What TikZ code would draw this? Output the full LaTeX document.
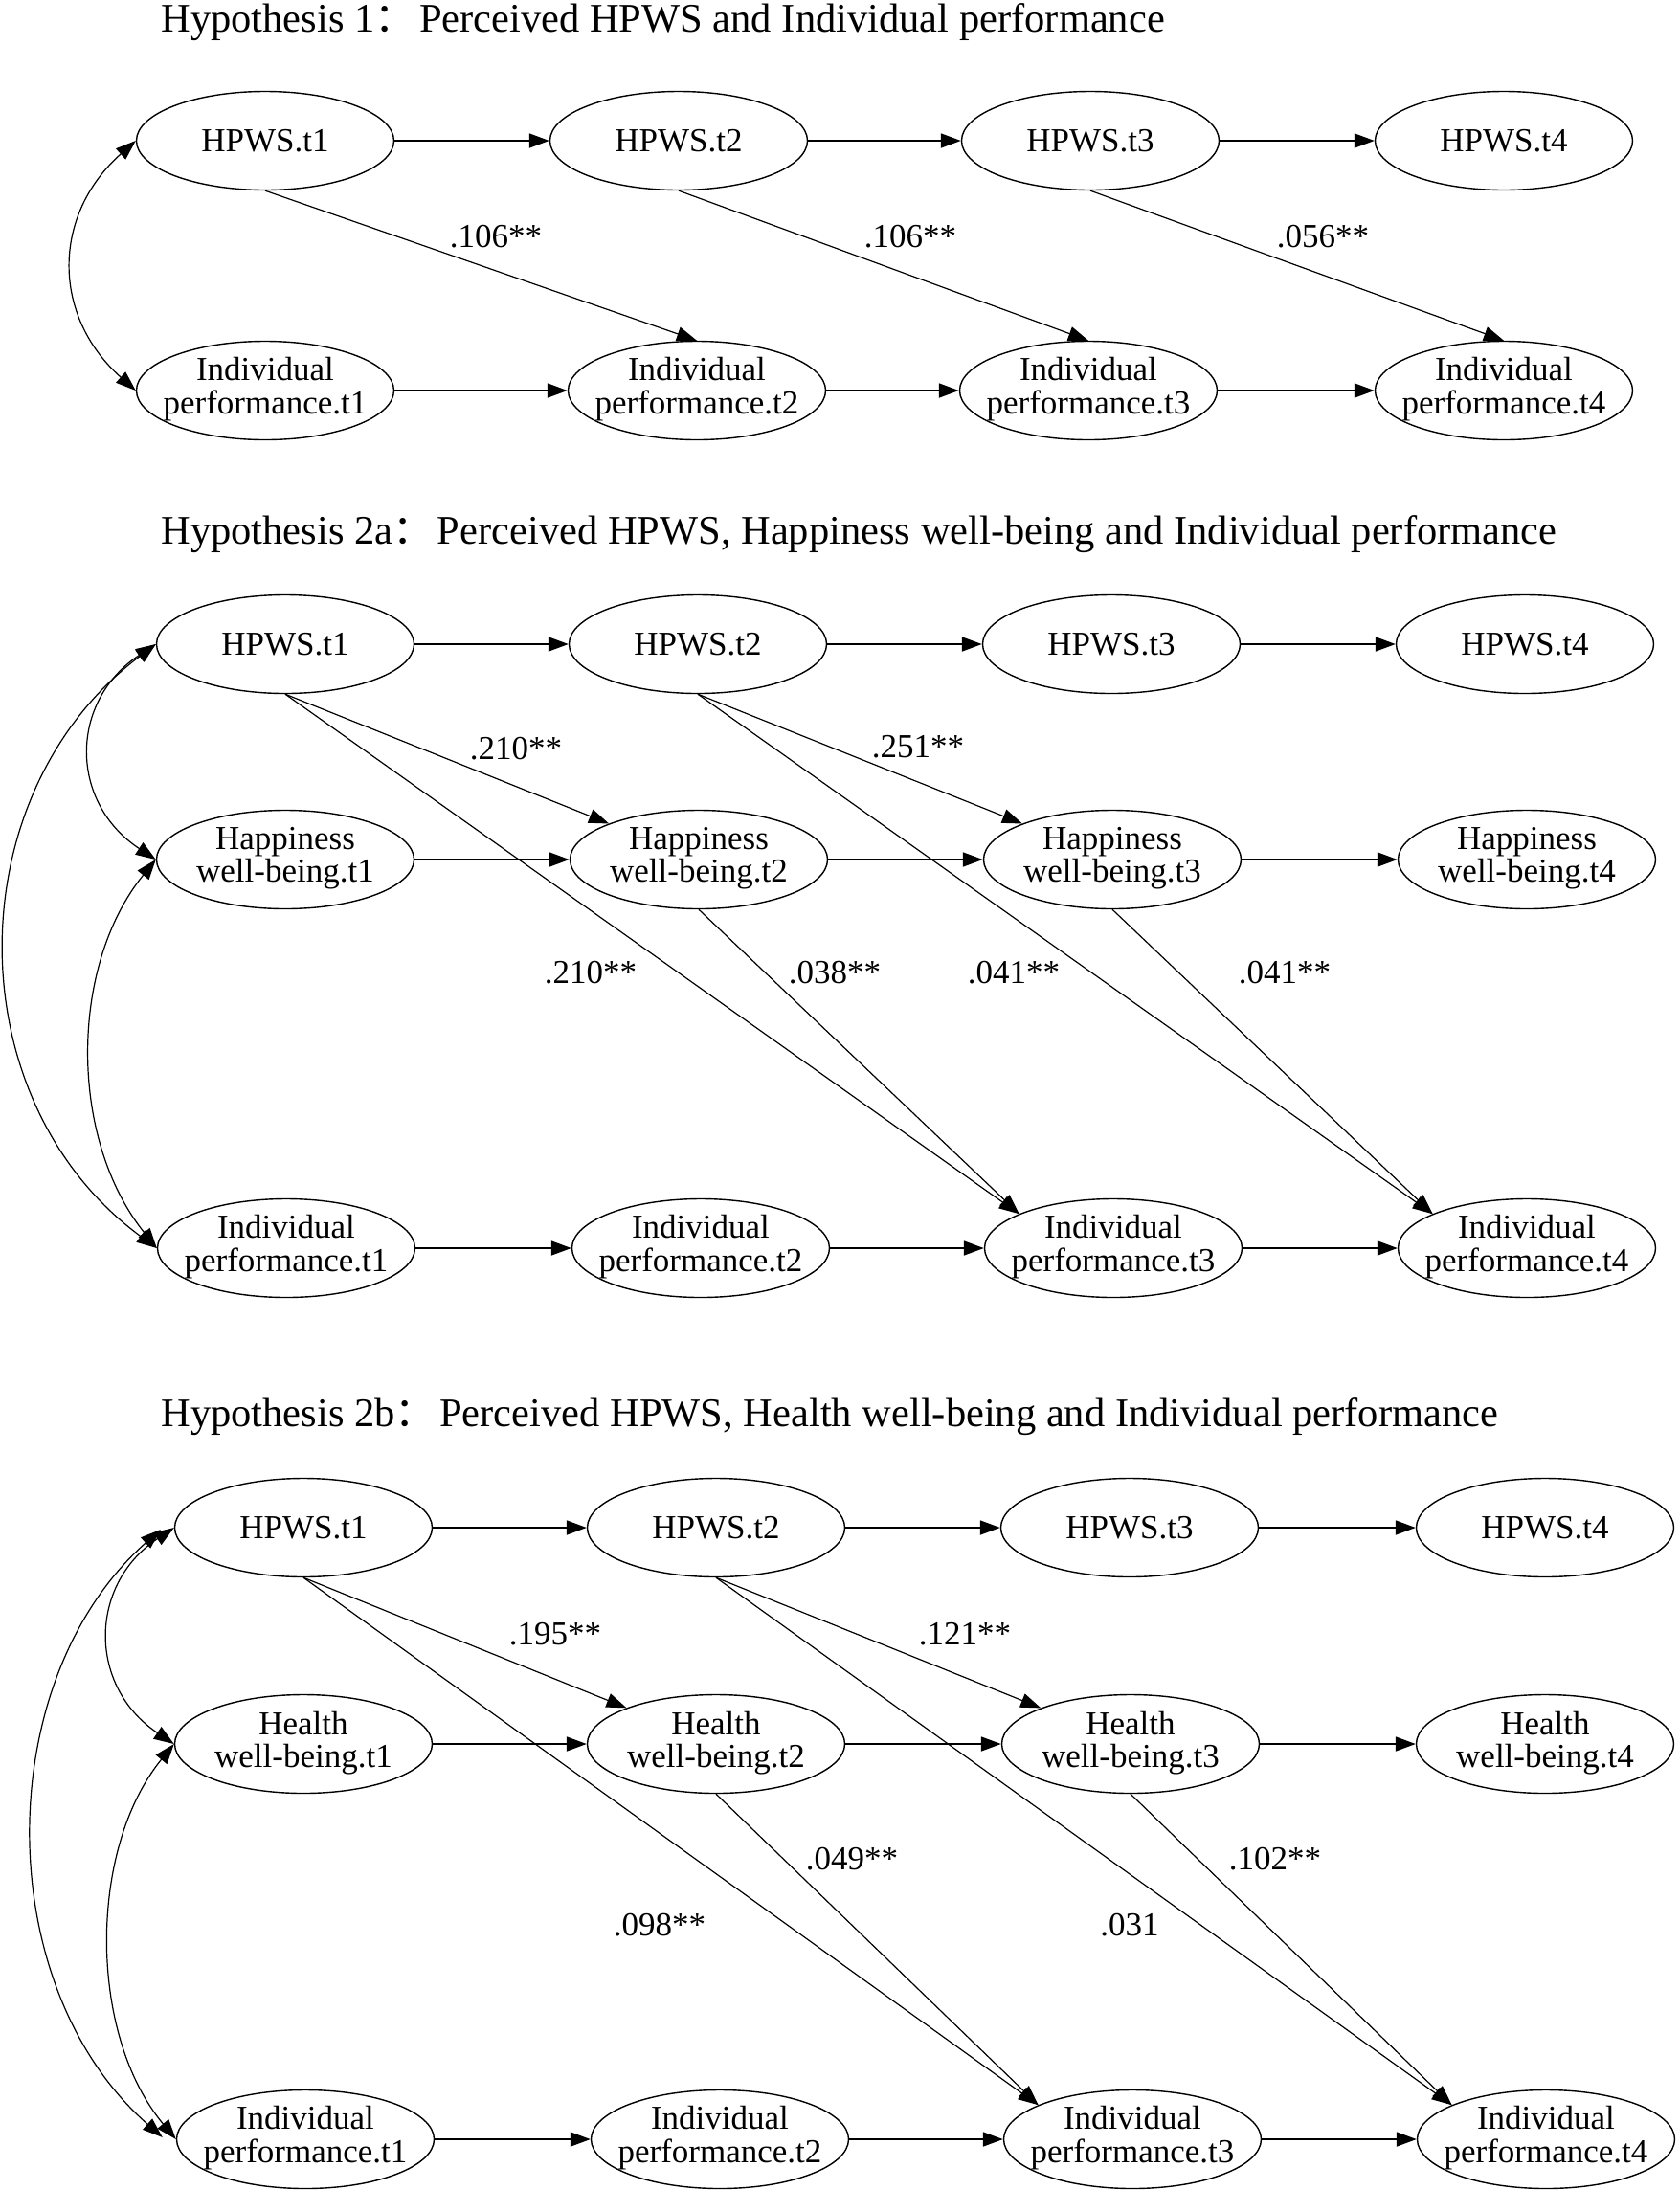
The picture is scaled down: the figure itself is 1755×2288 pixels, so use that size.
\documentclass[tikz,border=0pt]{standalone}
\usepackage{fontspec}
\setmainfont{Liberation Serif}
\newfontfamily\cjk{Noto Sans CJK SC}
\usetikzlibrary{arrows.meta,shapes.geometric,calc}
\newcommand\twol[2]{\makebox[0pt]{\begin{tabular}{@{}c@{}}#1\\#2\end{tabular}}}
\begin{document}
\begin{tikzpicture}[x=0.5pt,y=-0.5pt,
  ell/.style={draw, line width=0.7pt, ellipse, minimum width=134.5pt, minimum height=51.5pt, inner sep=0pt, font=\fontsize{17.5}{16.5}\selectfont},
  arr/.style={line width=0.9pt, -{Triangle[length=10.5pt,width=7.5pt]}},
  darr/.style={line width=0.6pt, -{Triangle[length=10.5pt,width=7.5pt]}},
  dbl/.style={line width=0.6pt, {Triangle[length=10.5pt,width=7.5pt]}-{Triangle[length=10.5pt,width=7.5pt]}},
  coef/.style={font=\fontsize{17.5}{20}\selectfont, inner sep=0pt},
  ttl/.style={anchor=base west, inner sep=0pt, font=\fontsize{21.25}{24}\selectfont}]
\useasboundingbox (0,0) rectangle (1755,2288);

% ---------------- Hypothesis 1 ----------------
\node[ttl] (T1) at (168,33) {Hypothesis 1{\cjk ：}\hspace{2pt}Perceived HPWS and Individual performance};
\node[ell] (a1) at (277,147) {HPWS.t1};
\node[ell] (a2) at (709,147) {HPWS.t2};
\node[ell] (a3) at (1139,147) {HPWS.t3};
\node[ell] (a4) at (1571,147) {HPWS.t4};
\node[ell] (b1) at (277,408) {\twol{Individual}{performance.t1}};
\node[ell] (b2) at (728,408) {\twol{Individual}{performance.t2}};
\node[ell] (b3) at (1137,408) {\twol{Individual}{performance.t3}};
\node[ell] (b4) at (1571,408) {\twol{Individual}{performance.t4}};
\draw[arr] (a1) -- (a2);
\draw[arr] (a2) -- (a3);
\draw[arr] (a3) -- (a4);
\draw[arr] (b1) -- (b2);
\draw[arr] (b2) -- (b3);
\draw[arr] (b3) -- (b4);
\draw[darr] (a1.south) -- (b2.north);
\draw[darr] (a2.south) -- (b3.north);
\draw[darr] (a3.south) -- (b4.north);
\node[coef] (k1) at (518,247) {.106**};
\node[coef] (k2) at (951,247) {.106**};
\node[coef] (k3) at (1382,247) {.056**};
\draw[dbl] (a1.west) .. controls (54,225) and (54,330) .. (b1.west);

% ---------------- Hypothesis 2a ----------------
\node[ttl] (T2) at (168,568) {Hypothesis 2a{\cjk ：}\hspace{2pt}Perceived HPWS, Happiness well-being and Individual performance};
\node[ell] (c1) at (298,673) {HPWS.t1};
\node[ell] (c2) at (729,673) {HPWS.t2};
\node[ell] (c3) at (1161,673) {HPWS.t3};
\node[ell] (c4) at (1593,673) {HPWS.t4};
\node[ell] (d1) at (298,898) {\twol{Happiness}{well-being.t1}};
\node[ell] (d2) at (730,898) {\twol{Happiness}{well-being.t2}};
\node[ell] (d3) at (1162,898) {\twol{Happiness}{well-being.t3}};
\node[ell] (d4) at (1595,898) {\twol{Happiness}{well-being.t4}};
\node[ell] (e1) at (299,1304) {\twol{Individual}{performance.t1}};
\node[ell] (e2) at (732,1304) {\twol{Individual}{performance.t2}};
\node[ell] (e3) at (1163,1304) {\twol{Individual}{performance.t3}};
\node[ell] (e4) at (1595,1304) {\twol{Individual}{performance.t4}};
\draw[arr] (c1) -- (c2);
\draw[arr] (c2) -- (c3);
\draw[arr] (c3) -- (c4);
\draw[arr] (d1) -- (d2);
\draw[arr] (d2) -- (d3);
\draw[arr] (d3) -- (d4);
\draw[arr] (e1) -- (e2);
\draw[arr] (e2) -- (e3);
\draw[arr] (e3) -- (e4);
\draw[darr] (c1.south) -- (d2);
\draw[darr] (c1.south) -- (e3.160);
\draw[darr] (d2.south) -- (e3.160);
\draw[darr] (c2.south) -- (d3);
\draw[darr] (c2.south) -- (e4.160);
\draw[darr] (d3.south) -- (e4.160);
\node[coef] (m1) at (539,782) {.210**};
\node[coef] (m2) at (959,780) {.251**};
\node[coef] (m3) at (617,1016) {.210**};
\node[coef] (m4) at (872,1016) {.038**};
\node[coef] (m5) at (1059,1016) {.041**};
\node[coef] (m6) at (1342,1016) {.041**};
\draw[dbl] (c1.west) .. controls (72,733) and (72,838) .. (d1.west);
\draw[dbl] (d1.west) .. controls (72,1010) and (72,1190) .. (e1.west);
\draw[dbl] (c1.west) .. controls (-46,830) and (-46,1150) .. (e1.west);

% ---------------- Hypothesis 2b ----------------
\node[ttl] (T3) at (168,1490) {Hypothesis 2b{\cjk ：}\hspace{2pt}Perceived HPWS, Health well-being and Individual performance};
\node[ell] (f1) at (317,1596) {HPWS.t1};
\node[ell] (f2) at (748,1596) {HPWS.t2};
\node[ell] (f3) at (1180,1596) {HPWS.t3};
\node[ell] (f4) at (1614,1596) {HPWS.t4};
\node[ell] (g1) at (317,1822) {\twol{Health}{well-being.t1}};
\node[ell] (g2) at (748,1822) {\twol{Health}{well-being.t2}};
\node[ell] (g3) at (1181,1822) {\twol{Health}{well-being.t3}};
\node[ell] (g4) at (1614,1822) {\twol{Health}{well-being.t4}};
\node[ell] (h1) at (319,2235) {\twol{Individual}{performance.t1}};
\node[ell] (h2) at (752,2235) {\twol{Individual}{performance.t2}};
\node[ell] (h3) at (1183,2235) {\twol{Individual}{performance.t3}};
\node[ell] (h4) at (1615,2235) {\twol{Individual}{performance.t4}};
\draw[arr] (f1) -- (f2);
\draw[arr] (f2) -- (f3);
\draw[arr] (f3) -- (f4);
\draw[arr] (g1) -- (g2);
\draw[arr] (g2) -- (g3);
\draw[arr] (g3) -- (g4);
\draw[arr] (h1) -- (h2);
\draw[arr] (h2) -- (h3);
\draw[arr] (h3) -- (h4);
\draw[darr] (f1.south) -- (g2);
\draw[darr] (f1.south) -- (h3.160);
\draw[darr] (g2.south) -- (h3.160);
\draw[darr] (f2.south) -- (g3);
\draw[darr] (f2.south) -- (h4.160);
\draw[darr] (g3.south) -- (h4.160);
\node[coef] (n1) at (580,1707) {.195**};
\node[coef] (n2) at (1008,1707) {.121**};
\node[coef] (n3) at (890,1942) {.049**};
\node[coef] (n4) at (1332,1942) {.102**};
\node[coef] (n5) at (689,2011) {.098**};
\node[coef] (n6) at (1180,2011) {.031};
\coordinate (f1o) at ($(f1.west)+(-14,2)$);
\coordinate (h1o) at ($(h1.west)+(-14,-2)$);
\draw[dbl] (f1.west) .. controls (92,1656) and (92,1762) .. (g1.west);
\draw[dbl] (g1.west) .. controls (92,1932) and (92,2125) .. (h1.west);
\draw[dbl] (f1o) .. controls (-10,1756) and (-10,2075) .. (h1o);
\end{tikzpicture}
\end{document}
